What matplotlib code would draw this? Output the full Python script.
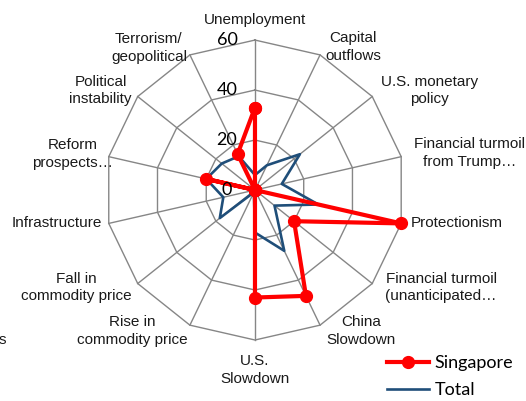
import numpy as np
import matplotlib
matplotlib.use('Agg')
import matplotlib.pyplot as plt
from matplotlib.lines import Line2D

plt.rcParams['font.family'] = ['Liberation Sans', 'DejaVu Sans']

categories = ['Unemployment', 'Capital\noutflows', 'U.S. monetary\npolicy',
              'Financial turmoil\nfrom Trump…', 'Protectionism',
              'Financial turmoil\n(unanticipated…', 'China\nSlowdown', 'U.S.\nSlowdown',
              'Rise in\ncommodity price', 'Fall in\ncommodity price', 'Infrastructure',
              'Reform\nprospects…', 'Political\ninstability', 'Terrorism/\ngeopolitical']
singapore = [33, 0, 0, 0, 60, 20, 47, 43, 0, 0, 0, 20, 0, 16]
total = [6, 11, 23, 11, 26, 10, 27, 17, 1, 18, 13, 20, 17, 15]
rticks = [0, 20, 40, 60]

# label offsets in pixels from the outer vertex, plus alignment
label_style = [((0, 20), 'center'), ((33, 8), 'center'), ((57, 6), 'center'),
               ((68, 4), 'center'), ((10, 0), 'left'), ((69, -4), 'center'),
               ((41, -6), 'center'), ((0, -30), 'center'), ((-58, -6), 'center'),
               ((-61, -4), 'center'), ((-7, 0), 'right'), ((-36, 3), 'center'),
               ((-37, 6), 'center'), ((-41, 7), 'center')]

n = len(categories)
angles = np.arange(n) * 2 * np.pi / n
closed = np.append(angles, angles[0])

fig = plt.figure(figsize=(5.26, 4.01), dpi=100)
ax = fig.add_axes([0.1996, 0.1521, 0.5703, 0.748], projection='polar')
ax.set_theta_zero_location('N')
ax.set_theta_direction(-1)
ax.set_ylim(0, 60)
ax.grid(False)
ax.spines['polar'].set_visible(False)
ax.set_xticks([])
ax.set_yticks([])
ax.patch.set_alpha(0)

grid_c = '#868686'
for r in rticks[1:]:
    ax.plot(closed, [r] * (n + 1), color=grid_c, lw=1, clip_on=False, zorder=1)
for a in angles:
    ax.plot([a, a], [0, rticks[-1]], color=grid_c, lw=1, clip_on=False, zorder=1)

for r in rticks:
    ax.annotate(str(r), xy=(0, r), xytext=(-28, 0), textcoords='offset pixels',
                ha='center', va='center', fontsize=13, family='Lato', zorder=5)

ax.plot(closed, np.append(total, total[0]), color='#1F4E79', lw=1.9,
        clip_on=False, zorder=3)
ax.plot(closed, np.append(singapore, singapore[0]), color='#FF0000', lw=3,
        marker='o', markersize=8.5, clip_on=False, zorder=4)

for a, lab, (off, ha) in zip(angles, categories, label_style):
    ax.annotate(lab, xy=(a, rticks[-1]), xytext=off, textcoords='offset pixels',
                ha=ha, va='center', fontsize=11, linespacing=1.35,
                multialignment='center', color='#1a1a1a')

fig.text(-0.002, (401 - 340) / 401, 's', fontsize=11, ha='left', va='center',
         color='#1a1a1a')

handles = [Line2D([], [], color='#FF0000', lw=3, marker='o', markersize=8.5),
           Line2D([], [], color='#1F4E79', lw=1.9)]
fig.legend(handles, ['Singapore', 'Total'], loc='center left',
           bbox_to_anchor=(0.7357, 0.0613), frameon=False, borderpad=0,
           borderaxespad=0, handlelength=2.3, handletextpad=0.35,
           labelspacing=0.62, prop={'family': 'Lato', 'size': 13})

fig.savefig('out.png', dpi=100)
